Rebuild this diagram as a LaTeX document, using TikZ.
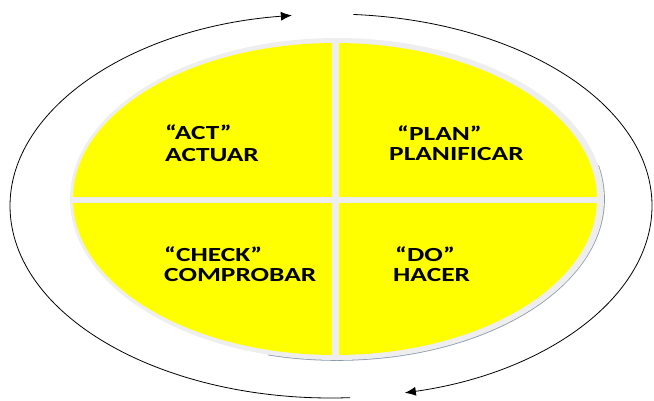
\documentclass[tikz,border=0pt]{standalone}
\usepackage{fontspec}
\newfontfamily\labfont{Carlito}[FakeStretch=1.37]
\usetikzlibrary{arrows.meta}
\definecolor{ringgray}{HTML}{EEEEEE}
\definecolor{shadowblue}{HTML}{8A9AAE}
\definecolor{pdcayellow}{HTML}{FFFF00}
\tikzset{
  lab/.style={anchor=base west, inner sep=0pt, font=\labfont\bfseries\fontsize{20}{22}\selectfont, text=black},
  cyclearrow/.style={draw=black, line width=0.8pt, -{Latex[length=11pt,width=9pt]}},
  divider/.style={draw=ringgray, line width=6.5pt}
}
\begin{document}
\begin{tikzpicture}[x=1pt,y=1pt]
\useasboundingbox (0,0) rectangle (654,400);
% ring shadow and gray ring
\draw[shadowblue, line width=1.6pt] (337,201) ++(12:267 and 161) arc[start angle=12, end angle=-105, x radius=267, y radius=161];
\fill[ringgray] (337,201) ellipse[x radius=267, y radius=161];
\fill[pdcayellow] (335,201) ellipse[x radius=262, y radius=156];
% dividers
\begin{scope}
\clip (337,201) ellipse[x radius=267, y radius=161];
\coordinate (vtop) at (335.5,400);
\coordinate (vbot) at (335.5,0);
\coordinate (hleft) at (0,200);
\coordinate (hright) at (654,200);
\draw[divider] (vtop) -- (vbot);
\draw[divider] (hleft) -- (hright);
\end{scope}
% labels
\node[lab] (act1) at (165,261) {“ACT”};
\node[lab] (act2) at (165,239) {ACTUAR};
\node[lab] (plan1) at (397,260) {“PLAN”};
\node[lab] (plan2) at (389,240) {PLANIFICAR};
\node[lab] (check1) at (164,139) {“CHECK”};
\node[lab] (check2) at (164,119) {COMPROBAR};
\node[lab] (do1) at (395,139) {“DO”};
\node[lab] (do2) at (393,119) {HACER};
% cycle arrows
\coordinate (cc) at (331,194);
\path (cc) ++(273.4:321 and 192) coordinate (ls);
\path (cc) ++(86:321 and 192) coordinate (rs);
\draw[cyclearrow] (ls) arc[start angle=273.4, end angle=97, x radius=321, y radius=192];
\draw[cyclearrow] (rs) arc[start angle=86, end angle=-76.7, x radius=321, y radius=192];
\end{tikzpicture}
\end{document}
